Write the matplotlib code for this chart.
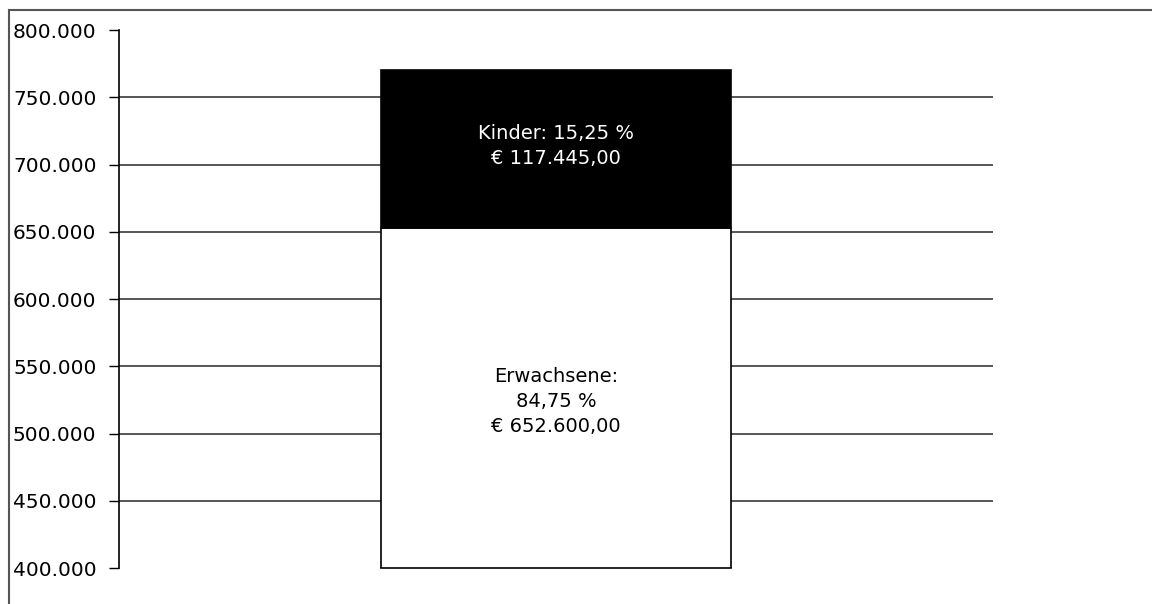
import matplotlib.pyplot as plt
from matplotlib.lines import Line2D
from matplotlib.ticker import FuncFormatter

# data
categories = ["Erwachsene", "Kinder"]
values = [652600.00, 117445.00]
shares = [84.75, 15.25]
label_texts = ["Erwachsene:\n84,75 %\n€ 652.600,00", "Kinder: 15,25 %\n€ 117.445,00"]
y_ticks = [400000, 450000, 500000, 550000, 600000, 650000, 700000, 750000, 800000]
grid_values = [450000, 500000, 550000, 600000, 650000, 700000, 750000]

plt.rcParams["font.family"] = ["DejaVu Sans"]

def de_thousands(v, pos=None):
    return "{:,.0f}".format(v).replace(",", ".")

fig = plt.figure(figsize=(11.52, 6.04), dpi=100)
ax = fig.add_axes([0.1030, 0.0596, 0.7590, 0.8907])

# grid lines behind the bar
for g in grid_values:
    ax.axhline(g, color="#3a3a3a", lw=1.2, zorder=1)

bar_x, bar_w = 0.5, 0.4
fills = ["white", "black"]
text_colors = ["black", "white"]
text_shift = [-2600, 2200]   # small nudge of the in-bar labels
bottom = 0
for val, fc, tc, txt, dy in zip(values, fills, text_colors, label_texts, text_shift):
    ax.bar(bar_x, val, width=bar_w, bottom=bottom, color=fc, edgecolor="black",
           linewidth=1.2, zorder=3)
    lo = max(bottom, y_ticks[0])
    ax.text(bar_x, (lo + bottom + val) / 2 + dy, txt, ha="center", va="center",
            color=tc, fontsize=14, linespacing=1.4, zorder=4)
    bottom += val

# bottom edge of the bar where it is cut by the axis range
ax.plot([bar_x - bar_w / 2, bar_x + bar_w / 2], [y_ticks[0], y_ticks[0]],
        color="black", lw=1.2, clip_on=False, zorder=5)

ax.set_xlim(0, 1)
ax.set_ylim(y_ticks[0], y_ticks[-1])
ax.set_yticks(y_ticks)
ax.yaxis.set_major_formatter(FuncFormatter(de_thousands))
ax.tick_params(axis="y", length=7, width=1, pad=9, labelsize=14.5,
               color="black")
ax.set_xticks([])
for side in ["top", "right", "bottom"]:
    ax.spines[side].set_visible(False)
ax.spines["left"].set_linewidth(1.2)

# outer frame (top and left)
fig.add_artist(Line2D([0.0078, 1.0], [0.9834, 0.9834], color="#555555",
                      lw=1.5, transform=fig.transFigure))
fig.add_artist(Line2D([0.0078, 0.0078], [0.0, 0.9834], color="#555555",
                      lw=1.5, transform=fig.transFigure))

fig.savefig("out.png", dpi=100)
